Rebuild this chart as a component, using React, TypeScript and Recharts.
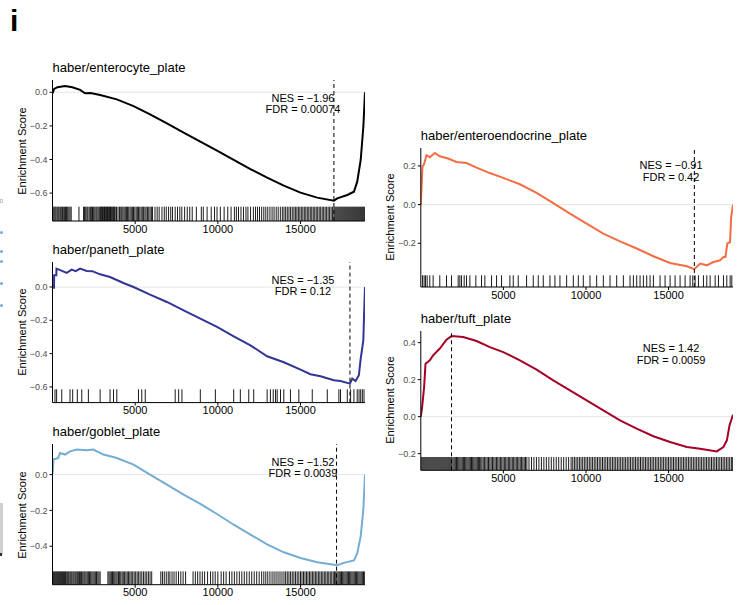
import { ComposedChart, Line, Scatter, XAxis, YAxis, ReferenceLine, ReferenceDot } from 'recharts';

const N_GENES = 18900;
const xTicks = [5000, 10000, 15000];

// running enrichment score, [rank, ES]
const enterocyteCurve = [
  [0, -0.006], [100, 0.02], [300, 0.03], [760, 0.037], [1200, 0.03], [1670, 0.014], [1970, -0.006],
  [2300, -0.004], [2880, -0.016], [3890, -0.042], [4900, -0.082], [5900, -0.131], [6920, -0.185],
  [7930, -0.24], [8940, -0.294], [9950, -0.347], [10960, -0.403], [11970, -0.457], [12980, -0.508],
  [13990, -0.556], [15000, -0.597], [16010, -0.627], [17020, -0.645], [17220, -0.631], [17830, -0.611],
  [18230, -0.592], [18430, -0.532], [18640, -0.403], [18800, -0.205], [18900, 0],
];
const panethCurve = [
  [0, -0.004], [90, -0.004], [100, 0.07], [230, 0.07], [240, 0.11], [500, 0.1], [860, 0.085],
  [1160, 0.104], [1400, 0.095], [1670, 0.11], [2070, 0.096], [2400, 0.095], [2880, 0.076],
  [3480, 0.06], [4290, 0.024], [4900, 0], [5900, -0.046], [6920, -0.09], [7930, -0.14], [8940, -0.19],
  [9950, -0.24], [10960, -0.296], [11970, -0.35], [12980, -0.416], [13990, -0.452], [15000, -0.496],
  [15600, -0.524], [16210, -0.536], [17020, -0.56], [17420, -0.564], [17990, -0.58], [18130, -0.55],
  [18330, -0.565], [18530, -0.53], [18640, -0.43], [18800, -0.32], [18840, -0.18], [18900, 0],
];
const gobletCurve = [
  [0, 0], [60, 0.084], [350, 0.093], [450, 0.121], [760, 0.112], [1060, 0.13], [1470, 0.14],
  [2070, 0.136], [2470, 0.14], [3080, 0.112], [3890, 0.093], [4900, 0.056], [5900, 0], [6920, -0.056],
  [7930, -0.112], [8940, -0.164], [9950, -0.22], [10960, -0.28], [11970, -0.335], [12980, -0.39],
  [13990, -0.434], [15000, -0.466], [16010, -0.49], [17020, -0.503], [17180, -0.507], [17620, -0.493],
  [18230, -0.479], [18430, -0.44], [18640, -0.345], [18800, -0.196], [18900, 0],
];
const enteroendocrineCurve = [
  [0, 0], [100, 0.194], [200, 0.21], [345, 0.255], [545, 0.245], [850, 0.267], [1150, 0.25],
  [1655, 0.238], [2160, 0.22], [2770, 0.215], [3375, 0.191], [4180, 0.163], [4990, 0.138],
  [6000, 0.105], [7010, 0.06], [8020, 0.008], [9030, -0.047], [10040, -0.098], [11050, -0.15],
  [12060, -0.19], [13070, -0.227], [14080, -0.267], [15090, -0.302], [16100, -0.319], [16560, -0.334],
  [16910, -0.305], [17310, -0.314], [17720, -0.297], [18120, -0.288], [18320, -0.271], [18440, -0.271],
  [18560, -0.2], [18720, -0.195], [18790, -0.064], [18900, 0],
];
const tuftCurve = [
  [0, 0], [80, 0.052], [200, 0.16], [285, 0.286], [545, 0.304], [745, 0.331], [1150, 0.368],
  [1555, 0.416], [1860, 0.436], [2565, 0.43], [3375, 0.409], [4180, 0.376], [4990, 0.349],
  [6000, 0.304], [7010, 0.254], [8020, 0.196], [9030, 0.142], [10040, 0.088], [11050, 0.034],
  [12060, -0.02], [13070, -0.065], [14080, -0.106], [15090, -0.137], [16100, -0.164], [16910, -0.173],
  [17920, -0.188], [18320, -0.164], [18530, -0.128], [18690, -0.047], [18900, 0.01],
];

// gene-set hit positions (rug)
const enterocyteHits = [
  30, 90, 150, 210, 280, 340, 400, 470, 530, 600, 650, 720, 790, 850, 920, 990, 1060, 1130, 1600,
  1880, 1940, 2010, 2080, 2140, 2220, 2290, 2350, 2420, 2490, 2560, 2630, 2690, 2760, 2830, 2890,
  2930, 2980, 3020, 3060, 3110, 3150, 3190, 3240, 3280, 3330, 3370, 3420, 3460, 3510, 3550, 3600,
  3650, 3700, 3740, 3790, 3870, 3960, 4050, 4130, 4190, 4260, 4330, 4400, 4470, 4540, 4610, 4690,
  4760, 4830, 4900, 4980, 5060, 5130, 5200, 5280, 5360, 5430, 5510, 5590, 5660, 5740, 5820, 5900,
  5980, 6050, 6200, 6330, 6450, 6620, 6760, 6880, 7020, 7150, 7260, 7420, 7560, 7700, 7820, 7990,
  8150, 8300, 8450, 8700, 9000, 9120, 9350, 9600, 9800, 9950, 10150, 10380, 10600, 10800, 11000,
  11120, 11250, 11400, 11550, 11700, 11820, 11980, 12150, 12280, 12400, 12520, 12650, 12780, 12900,
  13020, 13150, 13280, 13400, 13530, 13650, 13780, 13900, 14000, 14100, 14200, 14300, 14400, 14500,
  14600, 14690, 14780, 14870, 14960, 15050, 15140, 15230, 15320, 15410, 15500, 15590, 15680, 15770,
  15860, 15950, 16040, 16130, 16220, 16310, 16400, 16490, 16580, 16670, 16760, 16850, 16940, 17020,
  17080, 17140, 17200, 17260, 17320, 17380, 17440, 17500, 17560, 17620, 17680, 17740, 17800, 17860,
  17920, 17980, 18040, 18100, 18160, 18220, 18280, 18340, 18400, 18460, 18520, 18580, 18640, 18700,
  18760, 18820, 18880,
];
const panethHits = [
  150, 250, 560, 1060, 1220, 1500, 1770, 2170, 2880, 3480, 3690, 3890, 5200, 5400, 5610, 7420, 7630,
  7830, 8940, 9850, 10960, 11360, 11870, 12170, 12980, 13180, 13350, 13490, 13590, 13790, 13990,
  14390, 14900, 15710, 16620, 17320, 17420, 17830, 18030, 18230, 18430, 18540, 18640, 18740, 18840,
];
const gobletHits = [
  20, 70, 130, 190, 250, 310, 370, 430, 490, 550, 610, 670, 730, 790, 860, 920, 980, 1050, 1110,
  1170, 1240, 1300, 1370, 1430, 1500, 1560, 1630, 1700, 1760, 1830, 1900, 1960, 2030, 2100, 2170,
  2240, 2310, 2380, 2450, 2520, 2590, 2660, 2740, 2810, 2880, 3350, 3420, 3490, 3560, 3630, 3700,
  3770, 3840, 3910, 3990, 4060, 4130, 4210, 4280, 4360, 4440, 4520, 4600, 4680, 4760, 4850, 4940,
  5030, 5120, 5210, 5300, 5400, 5500, 5600, 5700, 5800, 5900, 6000, 6550, 6650, 6760, 6880, 7000,
  7100, 7230, 7350, 7480, 7620, 7760, 7900, 8050, 8500, 8640, 8780, 8920, 9060, 9200, 9380, 9560,
  9700, 9840, 10000, 10200, 10350, 10500, 10700, 10850, 11000, 11150, 11300, 11450, 11600, 11750,
  11900, 12050, 12200, 12350, 12500, 12650, 12780, 12900, 13020, 13150, 13280, 13400, 13520, 13640,
  13760, 13880, 14000, 14100, 14200, 14300, 14400, 14500, 14600, 14700, 14800, 14900, 15000, 15090,
  15180, 15270, 15360, 15450, 15540, 15630, 15720, 15810, 15900, 15990, 16080, 16170, 16260, 16350,
  16440, 16530, 16620, 16710, 16800, 16890, 16980, 17060, 17130, 17200, 17270, 17340, 17410, 17480,
  17550, 17620, 17690, 17760, 17830, 17900, 17970, 18040, 18110, 18180, 18250, 18320, 18390, 18460,
  18530, 18600, 18670, 18740, 18810, 18880,
];
const enteroendocrineHits = [
  100, 200, 283, 384, 545, 747, 1150, 1556, 1860, 2263, 2364, 2465, 2626, 2768, 2970, 3333, 3677,
  3879, 4283, 4586, 4889, 5394, 5596, 5899, 6404, 6808, 7111, 7414, 7818, 8121, 8424, 8828, 9232,
  9535, 9838, 10242, 10646, 11050, 11455, 11859, 12263, 12667, 12869, 13071, 13273, 13475, 13677,
  13879, 14081, 14485, 14788, 15091, 15394, 15697, 16000, 16303, 16465, 16606, 16808, 17111, 17313,
  17515, 17818, 18020, 18323, 18525, 18727, 18828,
];
const tuftHits = [
  20, 80, 140, 200, 260, 320, 380, 440, 500, 560, 620, 680, 740, 800, 860, 920, 980, 1040, 1100,
  1160, 1220, 1280, 1340, 1400, 1460, 1520, 1580, 1640, 1700, 1760, 1820, 1880, 1950, 2020, 2090,
  2160, 2230, 2300, 2370, 2440, 2510, 2580, 2650, 2720, 2790, 2860, 2930, 3000, 3070, 3140, 3210,
  3280, 3350, 3420, 3490, 3560, 3630, 3700, 3780, 3860, 3940, 4020, 4100, 4180, 4260, 4340, 4420,
  4500, 4580, 4660, 4740, 4820, 4900, 4980, 5060, 5140, 5220, 5300, 5380, 5460, 5540, 5620, 5700,
  5780, 5860, 5940, 6020, 6100, 6180, 6260, 6340, 6420, 6550, 6700, 6850, 7000, 7150, 7300, 7450,
  7600, 7750, 7900, 8050, 8200, 8350, 8500, 8650, 8800, 8950, 9100, 9200, 9300, 9400, 9500, 9600,
  9700, 9800, 9900, 10000, 10100, 10200, 10300, 10400, 10500, 10600, 10700, 10800, 10900, 11000,
  11100, 11200, 11300, 11400, 11500, 11600, 11700, 11800, 11900, 12000, 12100, 12200, 12300, 12400,
  12500, 12600, 12700, 12800, 12900, 13000, 13100, 13200, 13300, 13400, 13500, 13600, 13700, 13800,
  13900, 14000, 14100, 14200, 14300, 14400, 14500, 14600, 14700, 14800, 14900, 15000, 15100, 15200,
  15300, 15400, 15500, 15600, 15700, 15800, 15900, 16000, 16100, 16200, 16300, 16400, 16500, 16600,
  16700, 16800, 16900, 17000, 17100, 17200, 17300, 17400, 17500, 17600, 17700, 17800, 17900, 18000,
  18100, 18200, 18300, 18400, 18500, 18600, 18700, 18800, 18880,
];

const panels = [
  { title: 'haber/enterocyte_plate', color: '#000000', curve: enterocyteCurve, hits: enterocyteHits,
    peak: 17020, nes: '\u22121.96', fdr: '0.00074', yDomain: [-0.766, 0.073], yTicks: [-0.6, -0.4, -0.2, 0],
    left: 0, axisX: 52.5, top: 80, bottom: 221, rugH: 14.3 },
  { title: 'haber/paneth_plate', color: '#313695', curve: panethCurve, hits: panethHits,
    peak: 17990, nes: '\u22121.35', fdr: '0.12', yDomain: [-0.694, 0.15], yTicks: [-0.6, -0.4, -0.2, 0],
    left: 0, axisX: 52.5, top: 261.7, bottom: 402.3, rugH: 13.3 },
  { title: 'haber/goblet_plate', color: '#74ADD1', curve: gobletCurve, hits: gobletHits,
    peak: 17180, nes: '\u22121.52', fdr: '0.0039', yDomain: [-0.615, 0.171], yTicks: [-0.4, -0.2, 0],
    left: 0, axisX: 52.5, top: 444.3, bottom: 585, rugH: 13.3 },
  { title: 'haber/enteroendocrine_plate', color: '#F46D43', curve: enteroendocrineCurve, hits: enteroendocrineHits,
    peak: 16560, nes: '\u22120.91', fdr: '0.42', yDomain: [-0.426, 0.2925], yTicks: [-0.2, 0, 0.2],
    left: 368, axisX: 420.8, top: 147.7, bottom: 286.7, rugH: 11.7 },
  { title: 'haber/tuft_plate', color: '#A50026', curve: tuftCurve, hits: tuftHits,
    peak: 1860, nes: '1.42', fdr: '0.0059', yDomain: [-0.29, 0.463], yTicks: [-0.2, 0, 0.2, 0.4],
    left: 368, axisX: 420.8, top: 330.7, bottom: 470, rugH: 13.3 },
];

const FONT = '"Liberation Sans", Arial, Helvetica, sans-serif';
const fmtY = (v: number) => v.toFixed(1).replace('-', '\u2212');

function GseaPanel({ p }: { p: (typeof panels)[number] }) {
  const chartW = 370;
  const plotH = p.bottom - p.top;
  const chartH = 5 + plotH + 19;
  const curve = p.curve.map(([rank, es]) => ({ rank, es }));
  const rug = p.hits.map((rank) => ({ rank, es: p.yDomain[0] }));
  const annY = p.yDomain[1] - 0.166 * (p.yDomain[1] - p.yDomain[0]);
  const rugH = p.rugH;

  return (
    <>
      <div style={{ position: 'absolute', left: p.axisX, top: p.top - 20, fontSize: 13, lineHeight: '15px', whiteSpace: 'nowrap', color: '#000' }}>
        {p.title}
      </div>
      <div
        style={{
          position: 'absolute', left: p.axisX - 31 - 60, top: (p.top + p.bottom) / 2 - 7, width: 120, height: 14,
          lineHeight: '14px', fontSize: 11, textAlign: 'center', transform: 'rotate(-90deg)', color: '#000',
        }}
      >
        Enrichment Score
      </div>
      <div style={{ position: 'absolute', left: p.left, top: p.top - 5 }}>
        <ComposedChart width={chartW} height={chartH} margin={{ top: 5, right: 5, bottom: 0, left: 0 }}>
          <XAxis
            type="number" dataKey="rank" domain={[0, N_GENES]} ticks={xTicks} allowDataOverflow
            height={19} tickSize={3} tickMargin={1} stroke="#000"
            tick={{ fontSize: 11, fill: '#000' }}
          />
          <YAxis
            type="number" dataKey="es" domain={p.yDomain} ticks={p.yTicks} allowDataOverflow
            width={p.axisX - p.left} tickSize={3} tickMargin={2} stroke="#000"
            tick={{ fontSize: 9, fill: '#4d4d4d' }} tickFormatter={fmtY}
          />
          <ReferenceLine y={0} stroke="#e6e6e6" strokeWidth={1} />
          <Scatter
            data={rug} isAnimationActive={false}
            shape={(s: any) => (
              <line x1={s.cx} x2={s.cx} y1={s.cy - rugH} y2={s.cy} stroke="#000" strokeWidth={0.9} />
            )}
          />
          <Line
            data={curve} dataKey="es" type="linear" stroke={p.color} strokeWidth={2}
            dot={false} isAnimationActive={false}
          />
          <ReferenceLine x={p.peak} stroke="#000" strokeWidth={1} strokeDasharray="4 3" />
          <ReferenceDot
            x={15150} y={annY} r={0}
            shape={(s: any) => (
              <g fontSize={11} fill="#000">
                <text x={s.cx} y={s.cy - 5.7} textAnchor="middle" dominantBaseline="central">NES = {p.nes}</text>
                <text x={s.cx} y={s.cy + 5.7} textAnchor="middle" dominantBaseline="central">FDR = {p.fdr}</text>
              </g>
            )}
          />
        </ComposedChart>
      </div>
    </>
  );
}

export default function App() {
  return (
    <div style={{ position: 'absolute', left: 0, top: 0, width: 737, height: 605, background: '#fff', fontFamily: FONT, overflow: 'hidden' }}>
      <div style={{ position: 'absolute', left: 10, top: 6, fontSize: 30, lineHeight: '30px', fontWeight: 'bold', color: '#000' }}>i</div>
      {/* cropped edge of the neighbouring figure panel */}
      <div style={{ position: 'absolute', left: 0, top: 199, width: 3, height: 4, border: '1px solid #c8c8d8', boxSizing: 'border-box' }} />
      {[232, 251, 261, 283, 305].map((y) => (
        <div key={y} style={{ position: 'absolute', left: 0, top: y - 1.5, width: 2.5, height: 3, borderRadius: 2, background: '#6baed6' }} />
      ))}
      <div style={{ position: 'absolute', left: 0, top: 503, width: 3, height: 52, background: '#d0d0d0' }} />
      <div style={{ position: 'absolute', left: 0, top: 553, width: 2, height: 3, background: '#333' }} />
      {panels.map((p) => (
        <GseaPanel key={p.title} p={p} />
      ))}
    </div>
  );
}
